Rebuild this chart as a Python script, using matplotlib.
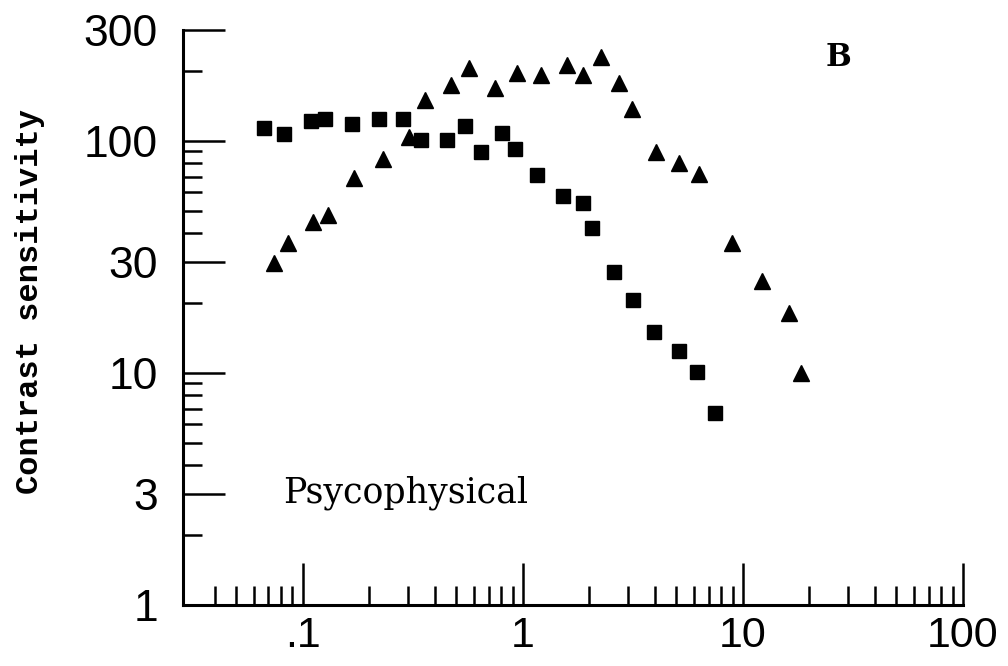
import matplotlib
matplotlib.use("Agg")
from matplotlib import pyplot as plt
from matplotlib.ticker import FixedLocator, NullFormatter

# spatial frequency (c/deg) and contrast sensitivity
sq_x = [0.0665, 0.082, 0.109, 0.127, 0.167, 0.222, 0.285, 0.347, 0.451,
        0.545, 0.644, 0.803, 0.920, 1.158, 1.52, 1.89, 2.06, 2.59, 3.16,
        3.94, 5.12, 6.18, 7.46]
sq_y = [114, 107, 122, 124, 118, 124, 124, 101, 101,
        116, 89, 108, 92, 71, 58, 54, 42, 27.2, 20.6,
        15.0, 12.4, 10.1, 6.7]

tri_x = [0.0738, 0.0863, 0.112, 0.130, 0.172, 0.231, 0.306, 0.359, 0.471,
         0.569, 0.746, 0.94, 1.207, 1.585, 1.89, 2.26, 2.73, 3.13, 4.02,
         5.12, 6.31, 8.92, 12.3, 16.2, 18.5]
tri_y = [29.8, 36.3, 44.8, 48.0, 69.3, 83.6, 104, 150, 173,
         206, 168, 195, 191, 211, 192, 230, 178, 137, 89,
         80, 72, 36.3, 24.9, 18.1, 10.0]

x_major = [0.1, 1, 10, 100]
x_major_labels = [".1", "1", "10", "100"]
y_major = [1, 3, 10, 30, 100, 300]
y_major_labels = ["1", "3", "10", "30", "100", "300"]

x_minor = [m * d for d in [0.01, 0.1, 1, 10] for m in range(2, 10) if m * d > 0.035]
y_minor = [m * d for d in [1, 10, 100] for m in [2, 4, 5, 6, 7, 8, 9] if m * d < 300]

fig = plt.figure(figsize=(10.08, 6.66), dpi=100)
ax = fig.add_axes([0.1815, 0.0916, 0.7735, 0.8634])

ax.plot(sq_x, sq_y, linestyle="none", marker="s", markersize=9.5, color="black")
ax.plot(tri_x, tri_y, linestyle="none", marker="^", markersize=11, color="black")

ax.set_xscale("log")
ax.set_yscale("log")
ax.set_xlim(0.0286, 100)
ax.set_ylim(1, 300)

ax.xaxis.set_major_locator(FixedLocator(x_major))
ax.xaxis.set_minor_locator(FixedLocator(x_minor))
ax.set_xticklabels(x_major_labels)
ax.xaxis.set_minor_formatter(NullFormatter())
ax.yaxis.set_major_locator(FixedLocator(y_major))
ax.yaxis.set_minor_locator(FixedLocator(y_minor))
ax.set_yticklabels(y_major_labels)
ax.yaxis.set_minor_formatter(NullFormatter())

for side in ["top", "right"]:
    ax.spines[side].set_visible(False)
for side in ["left", "bottom"]:
    ax.spines[side].set_linewidth(2.2)

ax.tick_params(which="major", direction="in", length=30, width=1.8)
ax.tick_params(which="minor", direction="in", length=14, width=1.8)
ax.tick_params(axis="x", which="major", pad=8, labelsize=31)
ax.tick_params(axis="y", which="major", pad=18, labelsize=32)
for lab in ax.get_xticklabels() + ax.get_yticklabels():
    lab.set_fontfamily("Liberation Sans")

fig.text(0.030, 0.548, "Contrast sensitivity", rotation=90, ha="center", va="center",
         fontsize=23, fontweight="bold", family="Liberation Mono")
fig.text(283 / 1008, 1 - 503 / 666, "Psycophysical", ha="left", va="baseline",
         fontsize=25, family="DejaVu Serif")
fig.text(838 / 1008, 1 - 57 / 666, "B", ha="center", va="center",
         fontsize=22, fontweight="bold", family="DejaVu Serif")

fig.savefig("out.png", dpi=100)
